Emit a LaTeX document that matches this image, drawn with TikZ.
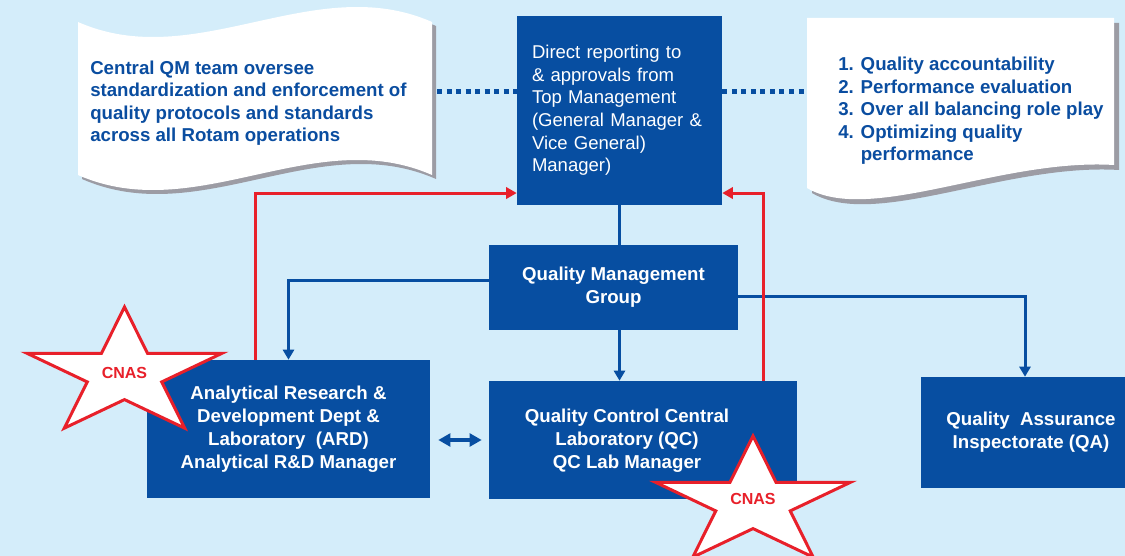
\documentclass[tikz,border=0pt]{standalone}
\usepackage{fontspec}
\setmainfont{Liberation Sans}
\usetikzlibrary{arrows.meta}
\definecolor{bg}{HTML}{D4EDFA}
\definecolor{boxblue}{HTML}{074EA1}
\definecolor{txtblue}{HTML}{0A4DA0}
\definecolor{redl}{HTML}{E8202A}
\definecolor{shadowgray}{HTML}{9C9CA4}
\begin{document}
\begin{tikzpicture}[x=0.75pt,y=-0.75pt,
  box/.style={draw=none,fill=boxblue,text=white,inner sep=0pt,align=center,
    font=\bfseries\fontsize{14}{17.2}\selectfont},
  boxlabel/.style={text=white,inner sep=0pt,align=center,
    font=\bfseries\fontsize{14}{17.2}\selectfont},
  bline/.style={draw=boxblue,line width=2.25pt},
  barrow/.style={bline,-{Triangle[length=7.5pt,width=8.25pt]}},
  rarrow/.style={draw=redl,line width=2.25pt,-{Triangle[length=8pt,width=8.5pt]}},
  dblarrow/.style={draw=boxblue,line width=3pt,{Triangle[length=9pt,width=9.5pt]}-{Triangle[length=9pt,width=9.5pt]}},
  dotline/.style={draw=boxblue,line width=3.75pt,dash pattern=on 3.75pt off 3.4pt},
  notetext/.style={text=txtblue,inner sep=0pt,align=left,anchor=west,
    font=\bfseries\fontsize{14}{16.9}\selectfont},
  starline/.style={draw=redl,line width=2.25pt,fill=white,line join=miter},
  startext/.style={text=redl,inner sep=0pt,font=\bfseries\fontsize{12}{13}\selectfont},
  shadowfill/.style={fill=shadowgray,draw=none},
  notefill/.style={fill=white,draw=none}
]
\useasboundingbox (0,0) rectangle (1125,556);
\fill[bg] (0,0) rectangle (1125,556);

% left note (wave)
\fill[shadowfill,shift={(4,4)}] (78,22) .. controls (196,74) and (314,-30) .. (432,22) -- (432,175) .. controls (314,123) and (196,227) .. (78,175) -- cycle;
\fill[notefill] (78,22) .. controls (196,74) and (314,-30) .. (432,22) -- (432,175) .. controls (314,123) and (196,227) .. (78,175) -- cycle;
\node[notetext] (lnote) at (90,103) {Central QM team oversee\\standardization and enforcement of\\quality protocols and standards\\across all Rotam operations};

% right note (document)
\fill[shadowfill,shift={(5,5)}] (807,18) -- (1114,18) -- (1114,165) .. controls (1000,158) and (870,225) .. (807,188) -- cycle;
\fill[notefill] (807,18) -- (1114,18) -- (1114,165) .. controls (1000,158) and (870,225) .. (807,188) -- cycle;
\node[notetext] (rnote) at (838,111) {1. Quality accountability\\2. Performance evaluation\\3. Over all balancing role play\\4. Optimizing quality\\\phantom{4. }performance};

\coordinate (lnedge) at (437,92);
\coordinate (rnedge) at (806,92);

% boxes
\node[box,minimum width=153.75pt,minimum height=141.75pt,text width=131.25pt,align=left,
  font=\fontsize{13.9}{17}\selectfont] (tm) at (619.5,110.5)
  {Direct reporting to\\\& approvals from\\Top Management\\(General Manager \&\\Vice General)\\Manager)};
\node[box,minimum width=186.75pt,minimum height=63.75pt] (qmg) at (613.5,287.5) {Quality Management\\Group};
\node[box,minimum width=212.25pt,minimum height=103.5pt] (ard) at (288.5,429)
  {Analytical Research \&\\Development Dept \&\\Laboratory\ \ (ARD)\\Analytical R\&D Manager};
\node[box,minimum width=231pt,minimum height=88.5pt] (qc) at (643,440) {};
\node[boxlabel] (qclabel) at (627,441)
  {Quality Control Central\\Laboratory (QC)\\QC Lab Manager};
\node[box,minimum width=165pt,minimum height=83.25pt] (qa) at (1031,432.5)
  {Quality\ \ Assurance\\Inspectorate (QA)};

% dotted links
\draw[dotline] (lnedge) -- (lnedge -| tm.west);
\draw[dotline] (tm.east |- rnedge) -- (rnedge);

% blue connectors
\draw[bline] (tm.south) -- (tm.south |- qmg.north);
\draw[barrow] ([yshift=5.6pt]qmg.west) -| (ard.north);
\draw[barrow] (tm.south |- qmg.south) -- (tm.south |- qc.north);
\draw[barrow] ([yshift=-7.1pt]qmg.east) -| ([xshift=-4.5pt]qa.north);
\draw[dblarrow,shorten <=6pt,shorten >=5.25pt] (ard.east |- qc.west) -- (qc.west);

% red connectors
\draw[rarrow] ([xshift=-25.1pt]ard.north) |- ([yshift=-61.9pt]tm.west);
\draw[rarrow] ([xshift=90pt]qc.north) |- ([yshift=-61.9pt]tm.east);

% stars
\begin{scope}[shift={(124.5,374)},xscale=1.53]
  \draw[starline] (-90:67) -- (-54:25.6) -- (-18:67) -- (18:25.6) -- (54:67) -- (90:25.6) -- (126:67) -- (162:25.6) -- (198:67) -- (234:25.6) -- cycle;
\end{scope}
\node[startext] (star1) at (124.5,373) {CNAS};
\begin{scope}[shift={(753,503)},xscale=1.53]
  \draw[starline] (-90:67) -- (-54:25.6) -- (-18:67) -- (18:25.6) -- (54:67) -- (90:25.6) -- (126:67) -- (162:25.6) -- (198:67) -- (234:25.6) -- cycle;
\end{scope}
\node[startext] (star2) at (753,499) {CNAS};
\end{tikzpicture}
\end{document}
